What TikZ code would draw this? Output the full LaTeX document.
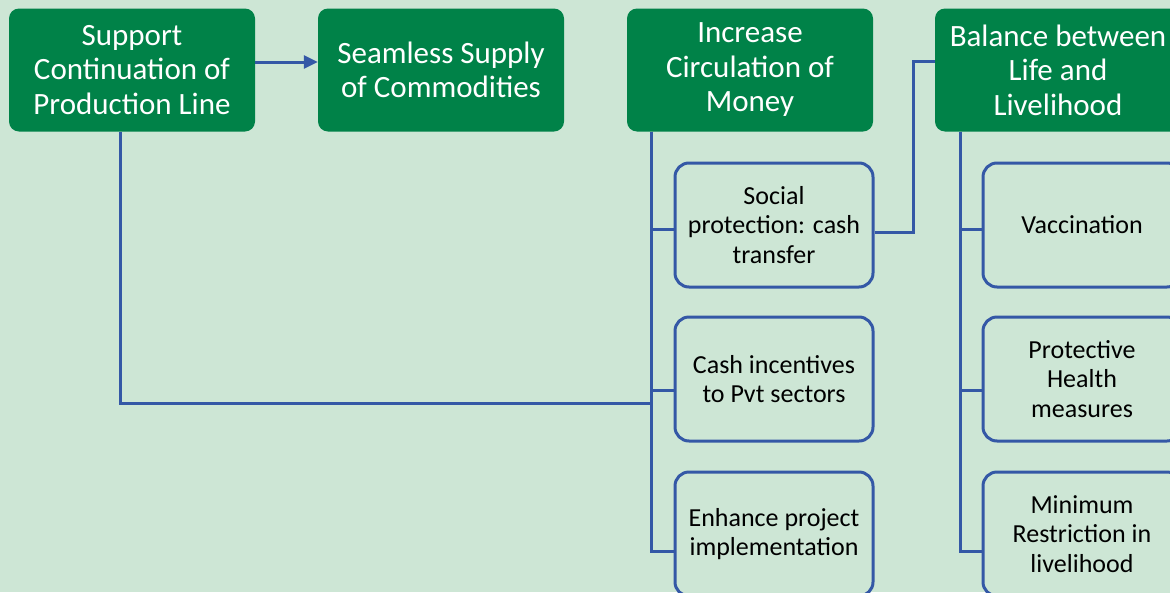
\documentclass[tikz,border=0pt]{standalone}
\usepackage{fontspec}
\setmainfont{Carlito}
\usetikzlibrary{arrows.meta,positioning}
\definecolor{bgmint}{RGB}{205,230,213}
\definecolor{headgreen}{RGB}{0,130,72}
\definecolor{linkblue}{RGB}{52,88,166}

\begin{document}
\begin{tikzpicture}[x=1pt,y=-1pt,
        head/.style={rectangle, fill=headgreen, rounded corners=10pt, text=white, align=center,
        minimum width=246pt, minimum height=123pt, inner sep=0pt, font=\fontsize{31}{34.5}\selectfont},
        item/.style={rectangle, draw=linkblue, line width=3pt, fill=bgmint, rounded corners=14pt,
        text=black, align=center, minimum width=198pt, minimum height=124pt, inner sep=0pt,
        font=\fontsize{26}{29.5}\selectfont},
        link/.style={draw=linkblue, line width=3pt}]
        \useasboundingbox (0,0) rectangle (1170,592);
        \clip (0,0) rectangle (1170,592);
        \fill[bgmint] (0,0) rectangle (1170,592);

        % top row
        \node [head] (support) at (132,70) {Support\\Continuation of\\Production Line};
        \node [head] (seamless) at (441,70) {Seamless Supply\\of Commodities};
        \node [head] (circulation) at (750,70) {Increase\\Circulation of\\Money};
        \node [head] (balance) at (1058,70) {Balance between\\Life and\\Livelihood};

        % money items
        \node [item] (social) at (774,225) {Social\\protection: cash\\transfer};
        \node [item] (incentive) at (774,379) {Cash incentives\\to Pvt sectors};
        \node [item] (project) at (774,534) {Enhance project\\implementation};

        % health items
        \node [item] (vaccine) at (1082,225) {Vaccination};
        \node [item] (health) at (1082,379) {Protective\\Health\\measures};
        \node [item] (restrict) at (1082,534) {Minimum\\Restriction in\\livelihood};

        \draw [link, -{Triangle[length=14pt,width=13pt]}] ([yshift=8pt]support.east) -- ([yshift=8pt]seamless.west);

        \draw [link] ([xshift=-99pt]circulation.south) |- ([yshift=-4pt]social.west);
        \draw [link] ([xshift=-99pt]circulation.south) |- ([yshift=-11pt]incentive.west);
        \draw [link] ([xshift=-99pt]circulation.south) |- ([yshift=-17pt]project.west);

        \draw [link] ([xshift=-98pt]balance.south) |- ([yshift=-4pt]vaccine.west);
        \draw [link] ([xshift=-98pt]balance.south) |- ([yshift=-11pt]health.west);
        \draw [link] ([xshift=-98pt]balance.south) |- ([yshift=-17pt]restrict.west);

        \draw [link] ([xshift=-12pt]support.south) |- ([shift={(-24pt,-24pt)}]incentive.west);
        \draw [link] ([yshift=-7pt]social.east) -- ++(39pt,0) |- ([yshift=9pt]balance.west);
\end{tikzpicture}
\end{document}
